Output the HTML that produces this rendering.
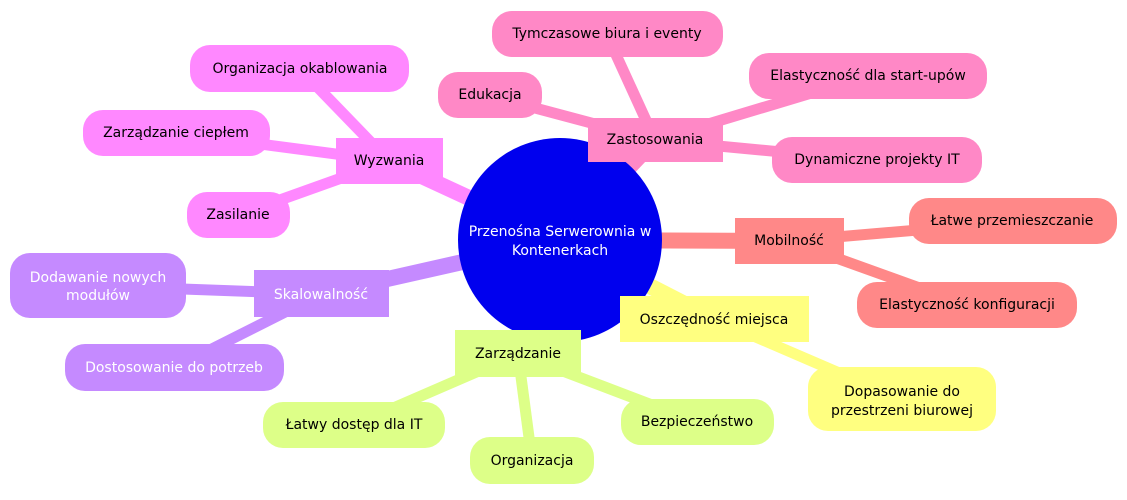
<!DOCTYPE html>
<html><head><meta charset="utf-8"><style>
html,body{margin:0;padding:0;background:#fff}
svg text{font-family:"DejaVu Sans","Liberation Sans",sans-serif;font-size:14px;text-anchor:middle;dominant-baseline:central}
</style></head><body>
<svg width="1127" height="495" viewBox="0 0 1127 495" xmlns="http://www.w3.org/2000/svg">
<g stroke-linecap="butt" fill="none">
<!-- pink Zastosowania -->
<g stroke="#ff88c6">
<line x1="560" y1="240" x2="655" y2="140" stroke-width="16"/>
<line x1="655" y1="140" x2="607" y2="35" stroke-width="11"/>
<line x1="655" y1="140" x2="490" y2="96" stroke-width="11"/>
<line x1="655" y1="140" x2="868" y2="76" stroke-width="11"/>
<line x1="655" y1="140" x2="877" y2="161" stroke-width="11"/>
</g>
<g stroke="#ff8888">
<line x1="560" y1="240" x2="789" y2="241" stroke-width="16"/>
<line x1="789" y1="241" x2="1012" y2="222" stroke-width="11"/>
<line x1="789" y1="241" x2="967" y2="305" stroke-width="11"/>
</g>
<g stroke="#ffff80">
<line x1="560" y1="240" x2="714" y2="319" stroke-width="16"/>
<line x1="714" y1="319" x2="902" y2="400" stroke-width="11"/>
</g>
<g stroke="#ddff88">
<line x1="560" y1="240" x2="518" y2="354" stroke-width="16"/>
<line x1="518" y1="354" x2="354" y2="425" stroke-width="11"/>
<line x1="518" y1="354" x2="532" y2="460" stroke-width="11"/>
<line x1="518" y1="354" x2="697" y2="422" stroke-width="11"/>
</g>
<g stroke="#c58aff">
<line x1="560" y1="240" x2="321" y2="294" stroke-width="16"/>
<line x1="321" y1="294" x2="98" y2="286" stroke-width="11"/>
<line x1="321" y1="294" x2="174" y2="368" stroke-width="11"/>
</g>
<g stroke="#ff88ff">
<line x1="560" y1="240" x2="389" y2="161" stroke-width="16"/>
<line x1="389" y1="161" x2="300" y2="69" stroke-width="11"/>
<line x1="389" y1="161" x2="176" y2="133" stroke-width="11"/>
<line x1="389" y1="161" x2="238" y2="215" stroke-width="11"/>
</g>
</g>
<circle cx="560" cy="240" r="102" fill="#0000ee"/>
<text x="560" y="232" fill="#fff">Przenośna Serwerownia w</text>
<text x="560" y="251" fill="#fff">Kontenerkach</text>

<g fill="#ff88c6">
<rect x="588" y="118" width="135" height="44"/>
<rect x="492" y="11" width="231" height="46" rx="20"/>
<rect x="438" y="72" width="104" height="46" rx="20"/>
<rect x="749" y="53" width="238" height="46" rx="20"/>
<rect x="772" y="137" width="210" height="46" rx="20"/>
</g>
<text x="655" y="140">Zastosowania</text>
<text x="607" y="34">Tymczasowe biura i eventy</text>
<text x="490" y="95">Edukacja</text>
<text x="868" y="76">Elastyczność dla start-upów</text>
<text x="877" y="160">Dynamiczne projekty IT</text>

<g fill="#ff8888">
<rect x="735" y="218" width="109" height="46"/>
<rect x="909" y="198" width="208" height="46" rx="20"/>
<rect x="857" y="282" width="220" height="46" rx="20"/>
</g>
<text x="789" y="241">Mobilność</text>
<text x="1012" y="221">Łatwe przemieszczanie</text>
<text x="967" y="305">Elastyczność konfiguracji</text>

<g fill="#ffff80">
<rect x="620" y="296" width="189" height="46"/>
<rect x="808" y="367" width="188" height="64" rx="20"/>
</g>
<text x="714" y="320">Oszczędność miejsca</text>
<text x="902" y="392">Dopasowanie do</text>
<text x="902" y="411">przestrzeni biurowej</text>

<g fill="#ddff88">
<rect x="455" y="330" width="126" height="47"/>
<rect x="263" y="402" width="182" height="46" rx="20"/>
<rect x="470" y="437" width="124" height="47" rx="20"/>
<rect x="621" y="399" width="153" height="46" rx="20"/>
</g>
<text x="518" y="354">Zarządzanie</text>
<text x="354" y="425">Łatwy dostęp dla IT</text>
<text x="532" y="461">Organizacja</text>
<text x="697" y="422">Bezpieczeństwo</text>

<g fill="#c58aff">
<rect x="254" y="270" width="135" height="47"/>
<rect x="10" y="253" width="176" height="65" rx="20"/>
<rect x="65" y="344" width="219" height="47" rx="20"/>
</g>
<text x="321" y="295" fill="#fff">Skalowalność</text>
<text x="98" y="278" fill="#fff">Dodawanie nowych</text>
<text x="98" y="296" fill="#fff">modułów</text>
<text x="174" y="368" fill="#fff">Dostosowanie do potrzeb</text>

<g fill="#ff88ff">
<rect x="336" y="138" width="107" height="46"/>
<rect x="190" y="45" width="219" height="47" rx="20"/>
<rect x="83" y="110" width="187" height="46" rx="20"/>
<rect x="187" y="192" width="103" height="46" rx="20"/>
</g>
<text x="389" y="161">Wyzwania</text>
<text x="300" y="69">Organizacja okablowania</text>
<text x="176" y="133">Zarządzanie ciepłem</text>
<text x="238" y="215">Zasilanie</text>
</svg>
</body></html>
